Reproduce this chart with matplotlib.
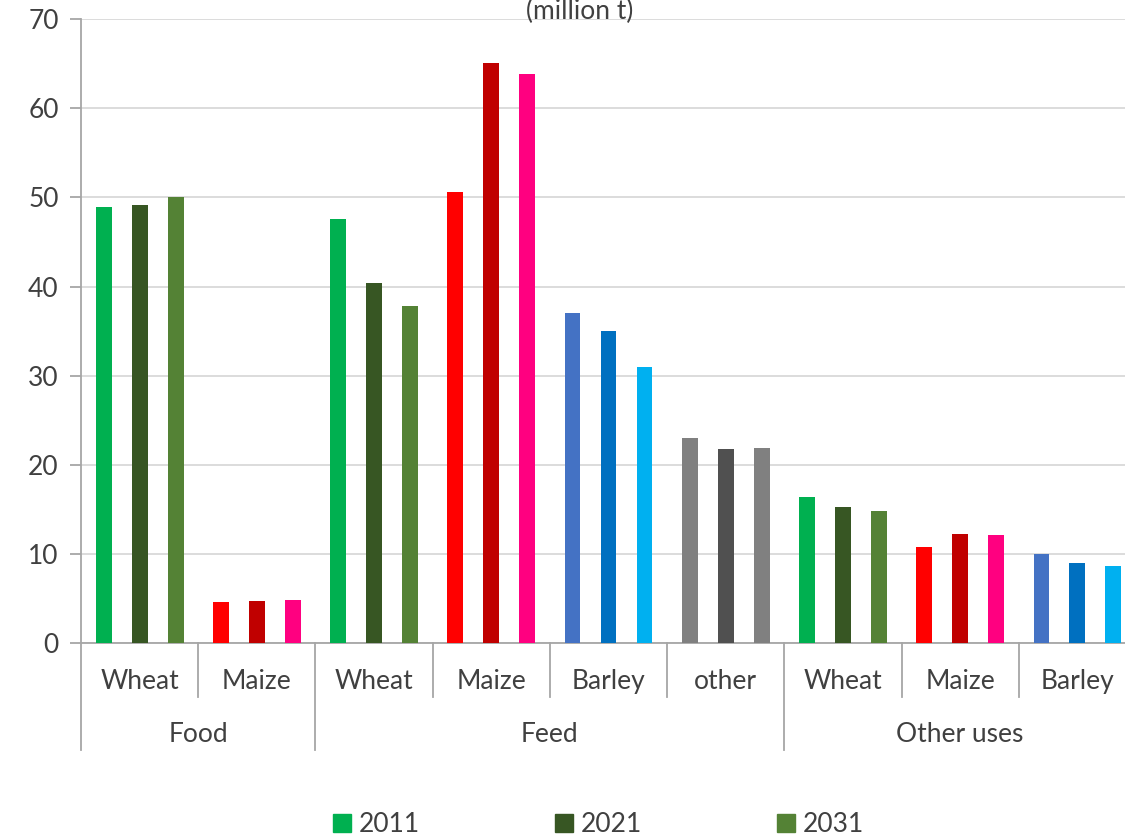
import matplotlib.pyplot as plt
import matplotlib.patches as mpatches
import numpy as np

plt.rcParams['font.family'] = ['Lato', 'DejaVu Sans']

# data (million t)
groups = ['Food', 'Feed', 'Other uses']
group_sizes = [2, 4, 3]
crops = ['Wheat', 'Maize', 'Wheat', 'Maize', 'Barley', 'other', 'Wheat', 'Maize', 'Barley']
years = ['2011', '2021', '2031']
v2011 = [48.9, 4.6, 47.6, 50.6, 37.0, 23.0, 16.4, 10.8, 10.0]
v2021 = [49.2, 4.7, 40.4, 65.1, 35.0, 21.8, 15.3, 12.2, 9.0]
v2031 = [50.1, 4.8, 37.8, 63.9, 31.0, 21.9, 14.8, 12.1, 8.6]

crop_colors = {
    'Wheat': ['#00B050', '#375623', '#548235'],
    'Maize': ['#FF0000', '#C00000', '#FF0080'],
    'Barley': ['#4472C4', '#0070C0', '#00B0F0'],
    'other': ['#808080', '#505050', '#808080'],
}

txt = '#404040'
fig = plt.figure(figsize=(11.25, 8.38), dpi=100)
ax = fig.add_axes([0.072, 0.2327, 0.9378, 0.7443])

x = np.arange(len(crops))
w = 0.135
offs = [-0.307, 0.0, 0.307]
for i, vals in enumerate([v2011, v2021, v2031]):
    cols = [crop_colors[c][i] for c in crops]
    ax.bar(x + offs[i], vals, width=w, color=cols, zorder=3)

ax.set_xlim(-0.5, len(crops) - 0.5)
ax.set_ylim(0, 70)
ax.set_yticks(np.arange(0, 71, 10))
ax.yaxis.grid(True, color='#d9d9d9', linewidth=1.3)
ax.set_axisbelow(True)
for s in ['top', 'right']:
    ax.spines[s].set_visible(False)
ax.spines['left'].set_color('#a6a6a6')
ax.spines['bottom'].set_color('#a6a6a6')
ax.spines['left'].set_linewidth(1.3)
ax.spines['bottom'].set_linewidth(1.3)
ax.tick_params(axis='y', length=8, color='#a6a6a6', width=1.3, labelsize=19,
               labelcolor=txt, pad=8)
ax.set_xticks([])

# two-level category axis
tr = ax.get_xaxis_transform()
for i, c in enumerate(crops):
    ax.text(i, -0.061, c, transform=tr, ha='center', va='center', fontsize=19, color=txt)
bounds = np.cumsum([0] + group_sizes)
for b in range(len(crops) + 1):
    yb = -0.172 if b in bounds else -0.087
    ax.plot([b - 0.5, b - 0.5], [0, yb], transform=tr, color='#a6a6a6',
            linewidth=1.3, clip_on=False)
for g, lo, hi in zip(groups, bounds[:-1], bounds[1:]):
    ax.text((lo + hi - 1) / 2, -0.147, g, transform=tr, ha='center', va='center',
            fontsize=19, color=txt)

fig.text(0.515, 0.986, '(million t)', ha='center', va='center', fontsize=19, color=txt)

handles = [mpatches.Patch(color=crop_colors['Wheat'][i], label=y) for i, y in enumerate(years)]
leg = fig.legend(handles=handles, loc='center', bbox_to_anchor=(0.532, 0.016), ncol=3,
                 frameon=False, fontsize=19, handlelength=0.7, handleheight=0.7,
                 handletextpad=0.3, columnspacing=5.1)
for t in leg.get_texts():
    t.set_color(txt)

fig.savefig('out.png', dpi=100)
